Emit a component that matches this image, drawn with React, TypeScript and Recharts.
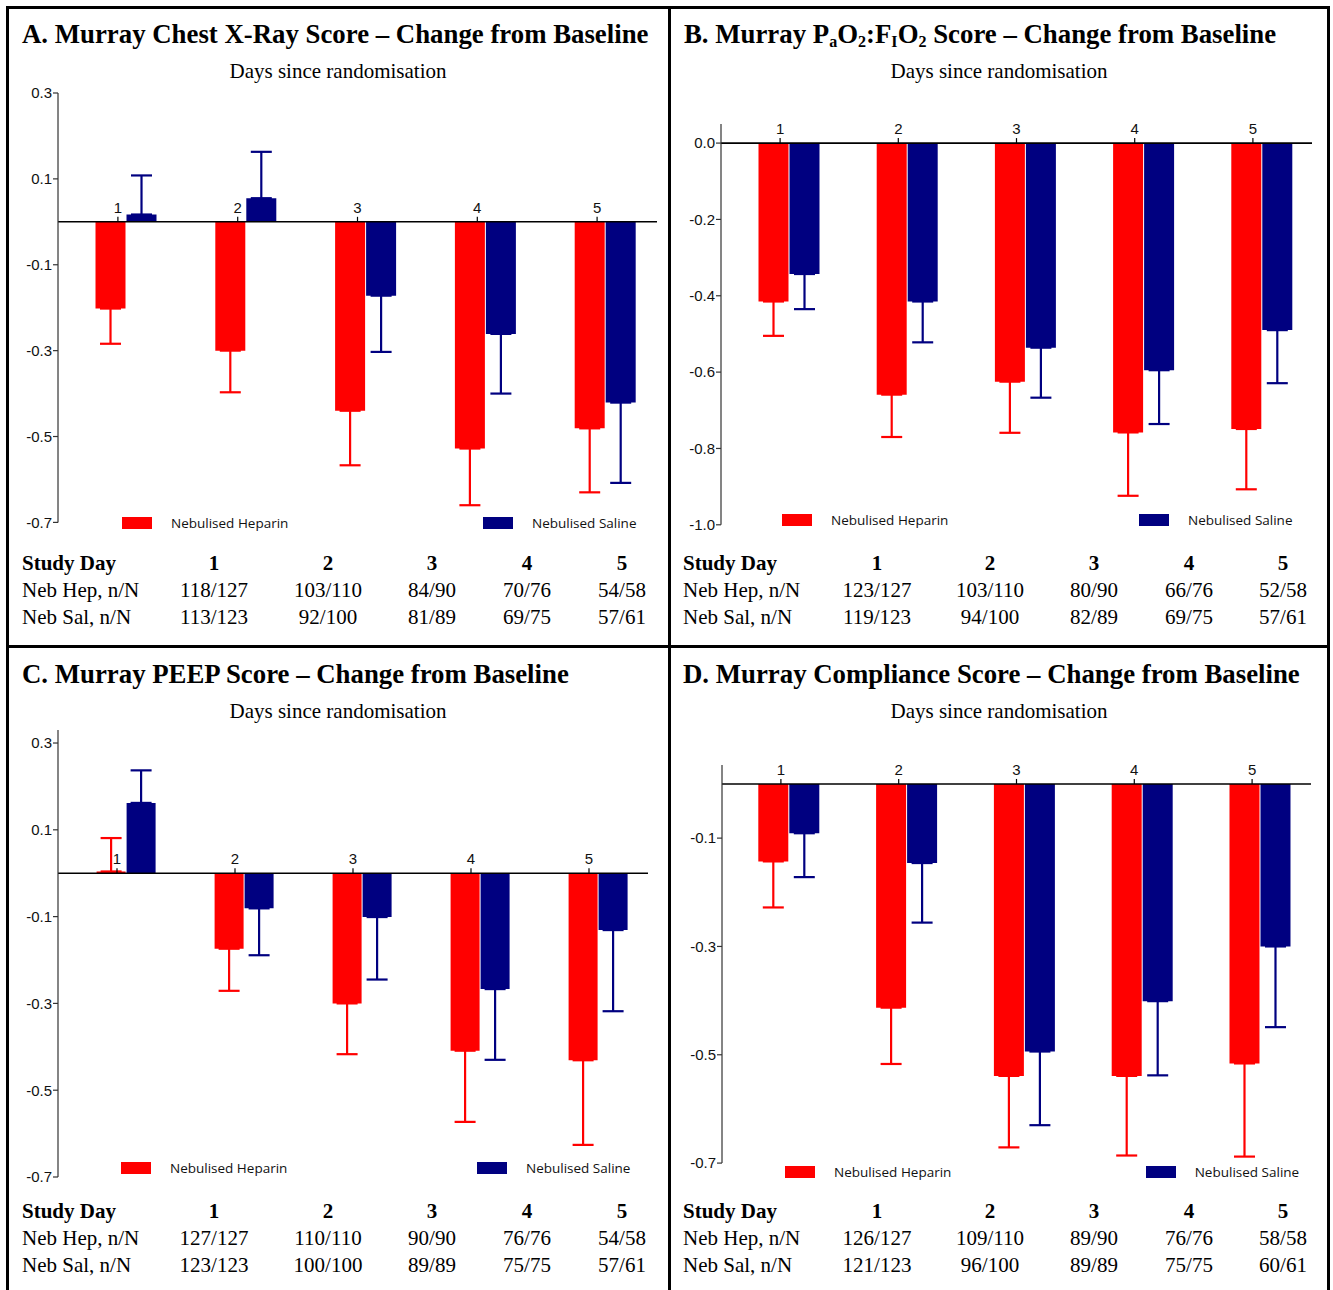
import React from 'react';
import { BarChart, Bar, XAxis, YAxis, ErrorBar, ReferenceLine, ReferenceDot, Legend } from 'recharts';

// ---------- data ----------
const days = ['1', '2', '3', '4', '5'];
const heparinName = 'Nebulised Heparin';
const salineName = 'Nebulised Saline';

// A. Chest X-Ray
const xrayHeparin = [-0.202, -0.3, -0.44, -0.528, -0.481];
const xrayHeparinErr = [0.082, 0.097, 0.127, 0.132, 0.149];
const xraySaline = [0.017, 0.055, -0.172, -0.261, -0.421];
const xraySalineErr = [0.091, 0.108, 0.131, 0.139, 0.187];
const xrayTicks = [0.3, 0.1, -0.1, -0.3, -0.5, -0.7];
const xrayHepN = ['118/127', '103/110', '84/90', '70/76', '54/58'];
const xraySalN = ['113/123', '92/100', '81/89', '69/75', '57/61'];

// B. PaO2:FIO2
const pfHeparin = [-0.415, -0.659, -0.625, -0.758, -0.749];
const pfHeparinErr = [0.09, 0.111, 0.134, 0.166, 0.158];
const pfSaline = [-0.343, -0.415, -0.536, -0.595, -0.49];
const pfSalineErr = [0.092, 0.107, 0.131, 0.141, 0.139];
const pfTicks = [0, -0.2, -0.4, -0.6, -0.8, -1.0];
const pfHepN = ['123/127', '103/110', '80/90', '66/76', '52/58'];
const pfSalN = ['119/123', '94/100', '82/89', '69/75', '57/61'];

// C. PEEP
const peepHeparin = [0.004, -0.174, -0.3, -0.409, -0.431];
const peepHeparinErr = [0.077, 0.097, 0.117, 0.164, 0.195];
const peepSaline = [0.162, -0.081, -0.101, -0.267, -0.131];
const peepSalineErr = [0.075, 0.108, 0.144, 0.163, 0.187];
const peepTicks = [0.3, 0.1, -0.1, -0.3, -0.5, -0.7];
const peepHepN = ['127/127', '110/110', '90/90', '76/76', '54/58'];
const peepSalN = ['123/123', '100/100', '89/89', '75/75', '57/61'];

// D. Compliance
const compHeparin = [-0.143, -0.413, -0.539, -0.539, -0.516];
const compHeparinErr = [0.085, 0.104, 0.132, 0.147, 0.172];
const compSaline = [-0.091, -0.146, -0.494, -0.401, -0.3];
const compSalineErr = [0.081, 0.11, 0.136, 0.137, 0.149];
const compTicks = [-0.1, -0.3, -0.5, -0.7];
const compHepN = ['126/127', '109/110', '89/90', '76/76', '58/58'];
const compSalN = ['121/123', '96/100', '89/89', '75/75', '60/61'];

// ---------- styles ----------
const RED = '#FF0000';
const NAVY = '#000080';
const SERIF = "'Liberation Serif', 'Times New Roman', serif";
const SANS = "'Liberation Sans', Arial, sans-serif";
const LEGEND_FONT = "'Open Sans', 'Noto Sans', sans-serif";

type Cfg = {
  title: React.ReactNode;
  titleX: number; titleY: number;
  subX: number; subY: number;
  axisX: number; bw: number; off: number;
  yTop: number; yBottom: number; domain: [number, number]; ticks: number[];
  barSize: number;
  hep: number[]; hepErr: number[]; sal: number[]; salErr: number[];
  hepN: string[]; salN: string[];
  legendY: number; legendXs: [number, number];
  labelX: number; rows: [number, number, number]; cols: number[];
};

const Sub = ({ children }: { children: React.ReactNode }) => (
  <span style={{ fontSize: '0.6em', position: 'relative', top: '0.28em' }}>{children}</span>
);

const panels: Cfg[] = [
  {
    title: <>A. Murray Chest X-Ray Score – Change from Baseline</>,
    titleX: 22, titleY: 34.2, subX: 338, subY: 71.5,
    axisX: 58, bw: 119.8, off: 8.5,
    yTop: 93.3, yBottom: 522.7, domain: [-0.7, 0.3], ticks: xrayTicks, barSize: 30,
    hep: xrayHeparin, hepErr: xrayHeparinErr, sal: xraySaline, salErr: xraySalineErr,
    hepN: xrayHepN, salN: xraySalN,
    legendY: 523.5, legendXs: [122, 483],
    labelX: 22, rows: [563, 590, 617], cols: [214, 328, 432, 527, 622],
  },
  {
    title: <>B. Murray P<Sub>a</Sub>O<Sub>2</Sub>:F<Sub>I</Sub>O<Sub>2</Sub> Score – Change from Baseline</>,
    titleX: 684, titleY: 34.2, subX: 999, subY: 71.5,
    axisX: 720.5, bw: 118.2, off: 8.5,
    yTop: 124.2, yBottom: 525, domain: [-1.0, 0.05], ticks: pfTicks, barSize: 30,
    hep: pfHeparin, hepErr: pfHeparinErr, sal: pfSaline, salErr: pfSalineErr,
    hepN: pfHepN, salN: pfSalN,
    legendY: 520, legendXs: [782, 1139],
    labelX: 683, rows: [563, 590, 617], cols: [877, 990, 1094, 1189, 1283],
  },
  {
    title: <>C. Murray PEEP Score – Change from Baseline</>,
    titleX: 22, titleY: 674, subX: 338, subY: 711.5,
    axisX: 57.6, bw: 118, off: 8.6,
    yTop: 729.7, yBottom: 1176.7, domain: [-0.7, 0.33], ticks: peepTicks, barSize: 29,
    hep: peepHeparin, hepErr: peepHeparinErr, sal: peepSaline, salErr: peepSalineErr,
    hepN: peepHepN, salN: peepSalN,
    legendY: 1168, legendXs: [121, 477],
    labelX: 22, rows: [1211, 1238, 1265], cols: [214, 328, 432, 527, 622],
  },
  {
    title: <>D. Murray Compliance Score – Change from Baseline</>,
    titleX: 683, titleY: 674, subX: 999, subY: 711.5,
    axisX: 722, bw: 117.8, off: 8.3,
    yTop: 765.2, yBottom: 1163.3, domain: [-0.7, 0.035], ticks: compTicks, barSize: 30,
    hep: compHeparin, hepErr: compHeparinErr, sal: compSaline, salErr: compSalineErr,
    hepN: compHepN, salN: compSalN,
    legendY: 1171.7, legendXs: [785, 1145.7],
    labelX: 683, rows: [1211, 1238, 1265], cols: [877, 990, 1094, 1189, 1283],
  },
];

// ---------- helpers ----------
const Txt = ({ x, y, size, bold, center, family, children }: any) => (
  <div
    style={{
      position: 'absolute', left: x, top: y - size / 2, fontSize: size, lineHeight: `${size}px`,
      fontWeight: bold ? 'bold' : 'normal', fontFamily: family || SERIF, whiteSpace: 'nowrap',
      transform: center ? 'translateX(-50%)' : undefined, color: '#000',
    }}
  >
    {children}
  </div>
);

const oneSided = (v: number, e: number) => (v >= 0 ? [0, e] : [e, 0]);

const LegendContent = ({ payload, xs }: any) => (
  <div style={{ position: 'relative', height: 0 }}>
    {(payload || []).map((p: any, i: number) => (
      <div key={p.value} style={{ position: 'absolute', left: xs[i], top: -9, height: 18, display: 'flex', alignItems: 'center', whiteSpace: 'nowrap' }}>
        <div style={{ width: 30, height: 12, background: p.color }} />
        <span style={{ marginLeft: 19, fontFamily: LEGEND_FONT, fontSize: 13.5, color: '#111' }}>{p.value}</span>
      </div>
    ))}
  </div>
);

function ChartPanel({ cfg }: { cfg: Cfg }) {
  const yAxisW = 56;
  const mTop = 10, mBottom = 20, mRight = 4;
  const plotW = cfg.off + 5 * cfg.bw;
  const plotH = cfg.yBottom - cfg.yTop;
  const chartLeft = cfg.axisX - yAxisW;
  const chartTop = cfg.yTop - mTop;
  const W = yAxisW + plotW + mRight;
  const H = mTop + plotH + mBottom;
  const off = cfg.off;

  const data = days.map((d, i) => ({
    day: d,
    hep: cfg.hep[i],
    hepErr: oneSided(cfg.hep[i], cfg.hepErr[i]),
    sal: cfg.sal[i],
    salErr: oneSided(cfg.sal[i], cfg.salErr[i]),
  }));

  const zeroLine = (p: any) => (
    <line x1={p.x1} y1={p.y1} x2={p.x2 - off} y2={p.y2} stroke="#000" strokeWidth={1.6} />
  );

  const dayTick = (label: string) => (p: any) => (
    <g>
      <line x1={p.cx - off} y1={p.cy} x2={p.cx - off} y2={p.cy - 5} stroke="#000" strokeWidth={1.2} />
      <text x={p.cx - off} y={p.cy - 9} textAnchor="middle" fontSize={15} fontFamily={SANS} fill="#111">
        {label}
      </text>
    </g>
  );

  return (
    <div style={{ position: 'absolute', left: chartLeft, top: chartTop }}>
      <BarChart width={W} height={H} data={data} margin={{ top: mTop, right: mRight, bottom: mBottom, left: 0 }} barGap={1}>
        <XAxis dataKey="day" hide padding={{ left: off, right: 0 }} />
        <YAxis
          width={yAxisW}
          type="number"
          domain={cfg.domain}
          allowDataOverflow
          ticks={cfg.ticks}
          interval={0}
          tickFormatter={(v: number) => v.toFixed(1)}
          axisLine={{ stroke: '#333', strokeWidth: 1.2 }}
          tickLine={{ stroke: '#333', strokeWidth: 1.2 }}
          tickSize={5}
          tickMargin={1}
          tick={{ fill: '#111', fontSize: 15, fontFamily: SANS }}
        />
        <Bar dataKey="hep" name={heparinName} fill={RED} barSize={cfg.barSize} isAnimationActive={false}>
          <ErrorBar dataKey="hepErr" direction="y" width={10.5} stroke={RED} strokeWidth={2.2} />
        </Bar>
        <Bar dataKey="sal" name={salineName} fill={NAVY} barSize={cfg.barSize} isAnimationActive={false}>
          <ErrorBar dataKey="salErr" direction="y" width={10.5} stroke={NAVY} strokeWidth={2.2} />
        </Bar>
        <ReferenceLine y={0} shape={zeroLine} />
        {days.map((d) => (
          <ReferenceDot key={d} x={d} y={0} r={0} shape={dayTick(d)} />
        ))}
        <Legend
          verticalAlign="middle"
          align="center"
          layout="horizontal"
          wrapperStyle={{ left: 0, top: cfg.legendY - chartTop, width: W, height: 0, margin: 0 }}
          content={(props: any) => (
            <LegendContent payload={props.payload} xs={[cfg.legendXs[0] - chartLeft, cfg.legendXs[1] - chartLeft]} />
          )}
        />
      </BarChart>
    </div>
  );
}

function Panel({ cfg }: { cfg: Cfg }) {
  return (
    <>
      <Txt x={cfg.titleX} y={cfg.titleY} size={26.8} bold>{cfg.title}</Txt>
      <Txt x={cfg.subX} y={cfg.subY} size={21} center>Days since randomisation</Txt>
      <ChartPanel cfg={cfg} />
      <Txt x={cfg.labelX} y={cfg.rows[0]} size={21} bold>Study Day</Txt>
      <Txt x={cfg.labelX} y={cfg.rows[1]} size={21}>Neb Hep, n/N</Txt>
      <Txt x={cfg.labelX} y={cfg.rows[2]} size={21}>Neb Sal, n/N</Txt>
      {days.map((d, i) => (
        <React.Fragment key={d}>
          <Txt x={cfg.cols[i]} y={cfg.rows[0]} size={21} bold center>{d}</Txt>
          <Txt x={cfg.cols[i]} y={cfg.rows[1]} size={21} center>{cfg.hepN[i]}</Txt>
          <Txt x={cfg.cols[i]} y={cfg.rows[2]} size={21} center>{cfg.salN[i]}</Txt>
        </React.Fragment>
      ))}
    </>
  );
}

const Rule = ({ x, y, w, h }: any) => (
  <div style={{ position: 'absolute', left: x, top: y, width: w, height: h, background: '#000' }} />
);

export default function App() {
  return (
    <div style={{ position: 'absolute', left: 0, top: 0, width: 1333, height: 1290, background: '#fff', overflow: 'hidden' }}>
      <Rule x={6} y={6} w={1324} h={3} />
      <Rule x={6} y={6} w={3} h={1284} />
      <Rule x={1327} y={6} w={3} h={1284} />
      <Rule x={668} y={6} w={3} h={1284} />
      <Rule x={6} y={645} w={1324} h={3} />
      {panels.map((p, i) => (
        <Panel key={i} cfg={p} />
      ))}
    </div>
  );
}
